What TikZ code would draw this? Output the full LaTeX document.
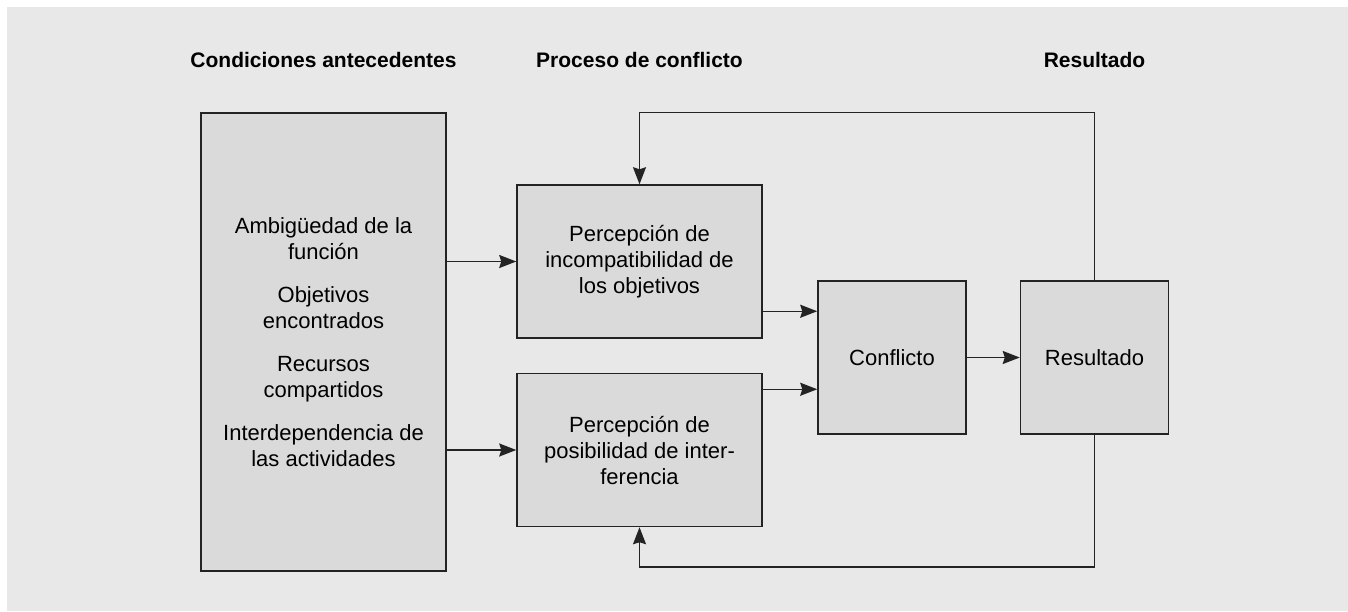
\documentclass[tikz,border=0pt]{standalone}
\usepackage{fontspec}
\setmainfont{Liberation Sans}
\usetikzlibrary{arrows.meta,positioning,calc}
\definecolor{fondo}{RGB}{232,232,232}
\definecolor{relleno}{RGB}{218,218,218}
\definecolor{trazo}{RGB}{35,35,35}
\tikzset{
  caja/.style={draw=trazo,line width=0.75pt,fill=relleno,align=center,font=\fontsize{11}{13}\selectfont,inner sep=3pt},
  proc/.style={caja,minimum width=122.5pt,minimum height=76.5pt},
  fin/.style={caja,minimum width=74pt,minimum height=76.5pt},
  cabecera/.style={font=\fontsize{10.5}{12}\selectfont\bfseries,anchor=base},
  flecha/.style={-{Stealth[length=8.5pt,width=6.5pt,inset=1pt]},draw=trazo,line width=0.75pt},
}
\begin{document}
\begin{tikzpicture}
  \useasboundingbox (0,0) rectangle (674pt,-305.5pt);
  \fill[fondo] (3.5pt,-3.5pt) rectangle (674pt,-305.5pt);
  \node[caja,minimum width=122.5pt,minimum height=229pt] (cond) at (161.75pt,-171pt) {Ambigüedad de la\\función\\[8.5pt]Objetivos\\encontrados\\[8.5pt]Recursos\\compartidos\\[8.5pt]Interdependencia de\\las actividades};
  \node[proc] (inc) at (319.75pt,-130.75pt) {Percepción de\\incompatibilidad de\\los objetivos};
  \node[proc,below=17pt of inc] (int) {Percepción de\\posibilidad de inter-\\ferencia};
  \node[fin] (confl) at (446pt,-178.75pt) {Conflicto};
  \node[fin,right=26.5pt of confl] (res) {Resultado};
  \node[cabecera] (h1) at (cond.center |- 0,-33.5pt) {Condiciones antecedentes};
  \node[cabecera] (h2) at (inc.center |- 0,-33.5pt) {Proceso de conflicto};
  \node[cabecera] (h3) at (res.center |- 0,-33.5pt) {Resultado};
  \coordinate (c1) at ([yshift=-15.5pt]confl.north west);
  \coordinate (c2) at ([yshift=-54.5pt]confl.north west);
  \coordinate (r1) at (res.south |- cond.south);
  \draw[flecha] (cond.east |- inc.west) -- (inc.west);
  \draw[flecha] (cond.east |- int.west) -- (int.west);
  \draw[flecha] (inc.east |- c1) -- (c1);
  \draw[flecha] (int.east |- c2) -- (c2);
  \draw[flecha] (confl) -- (res);
  \draw[flecha] (res.north) -- (res.north |- cond.north) -| (inc.north);
  \draw[flecha] (res.south) -- ([yshift=2.5pt]r1) -| (int.south);
\end{tikzpicture}
\end{document}
